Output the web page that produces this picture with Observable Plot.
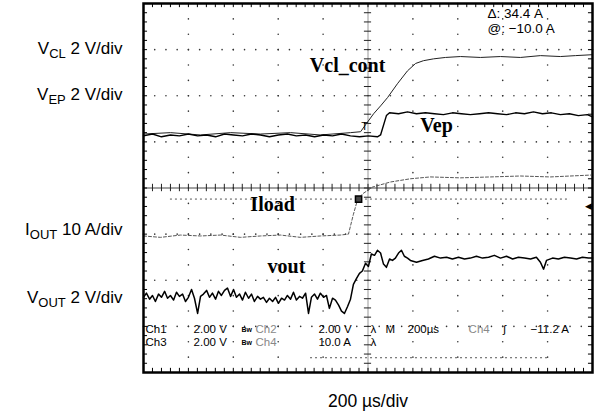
<!DOCTYPE html>
<html><head><meta charset="utf-8">
<script src="https://cdn.jsdelivr.net/npm/d3@7"></script>
<script src="https://cdn.jsdelivr.net/npm/@observablehq/plot@0.6"></script>
<style>body{margin:0;background:#fff;}</style>
</head><body><div id="chart"></div>
<script>
// time in µs (200 µs/div, trigger at 0), level in screen divisions (0..8)
const vcl = [[-1000,5.17],[-880,5.20],[-746,5.15],[-612,5.20],[-479,5.17],[-345,5.20],[-212,5.15],[-78,5.20],[-33,5.22],[-11,5.37],[25,5.61],[56,5.78],[87,5.96],[131,6.26],[176,6.54],[212,6.70],[247,6.76],[292,6.80],[345,6.83],[412,6.85],[501,6.83],[590,6.85],[679,6.83],[768,6.87],[857,6.85],[924,6.87],[1000,6.89]];
const vep = [[-1000,5.13],[-960,5.17],[-920,5.11],[-880,5.15],[-840,5.13],[-800,5.17],[-759,5.13],[-719,5.15],[-679,5.11],[-639,5.17],[-599,5.15],[-559,5.13],[-519,5.17],[-479,5.15],[-439,5.11],[-399,5.15],[-359,5.17],[-319,5.13],[-278,5.15],[-238,5.11],[-198,5.15],[-158,5.13],[-118,5.17],[-78,5.13],[-38,5.11],[2,5.13],[42,5.11],[56,5.15],[82,5.57],[96,5.63],[136,5.61],[176,5.65],[216,5.61],[256,5.63],[296,5.61],[336,5.59],[376,5.63],[416,5.61],[456,5.59],[497,5.61],[537,5.63],[577,5.61],[617,5.59],[657,5.63],[697,5.61],[737,5.65],[777,5.61],[817,5.63],[857,5.59],[897,5.61],[937,5.57],[977,5.59],[1000,5.54]];
const iload = [[-1000,2.96],[-924,2.93],[-835,2.98],[-746,2.96],[-657,2.98],[-568,2.93],[-479,2.96],[-390,2.98],[-301,2.93],[-212,2.96],[-123,2.98],[-87,3.00],[-65,3.43],[-47,3.74],[-25,3.87],[20,4.02],[100,4.13],[189,4.20],[278,4.24],[412,4.22],[546,4.24],[679,4.26],[813,4.24],[991,4.28]];
const vout = [[-1000,1.63],[-987,1.72],[-973,1.59],[-960,1.67],[-947,1.54],[-933,1.70],[-920,1.63],[-906,1.76],[-893,1.61],[-880,1.67],[-866,1.57],[-853,1.74],[-840,1.65],[-826,1.70],[-813,1.54],[-800,1.63],[-786,1.80],[-773,1.61],[-759,1.28],[-746,1.65],[-733,1.70],[-719,1.78],[-706,1.63],[-693,1.72],[-679,1.59],[-666,1.76],[-653,1.67],[-639,1.78],[-626,1.83],[-612,1.65],[-599,1.80],[-586,1.63],[-572,1.70],[-559,1.57],[-546,1.74],[-532,1.61],[-519,1.70],[-506,1.54],[-492,1.65],[-479,1.59],[-466,1.63],[-452,1.52],[-439,1.61],[-425,1.54],[-412,1.63],[-399,1.50],[-385,1.61],[-372,1.57],[-359,1.67],[-345,1.59],[-332,1.74],[-319,1.57],[-305,1.65],[-292,1.61],[-278,1.72],[-265,1.28],[-252,1.63],[-238,1.70],[-225,1.59],[-212,1.72],[-198,1.63],[-185,1.67],[-172,1.39],[-158,1.61],[-145,1.57],[-131,1.46],[-118,1.33],[-105,1.28],[-91,1.43],[-78,1.59],[-65,1.91],[-51,2.04],[-38,2.15],[-25,2.20],[-11,2.37],[2,2.30],[15,2.57],[29,2.54],[42,2.65],[56,2.59],[69,2.35],[82,2.28],[96,2.46],[109,2.43],[122,2.48],[136,2.59],[149,2.65],[162,2.52],[176,2.48],[189,2.43],[216,2.39],[243,2.43],[269,2.46],[296,2.52],[323,2.48],[350,2.50],[376,2.46],[403,2.50],[430,2.46],[456,2.48],[483,2.52],[510,2.48],[537,2.50],[563,2.54],[590,2.48],[617,2.52],[644,2.46],[670,2.50],[697,2.48],[724,2.46],[750,2.50],[768,2.39],[782,2.24],[795,2.43],[822,2.48],[848,2.46],[875,2.50],[902,2.48],[929,2.46],[955,2.50],[982,2.48],[1000,2.48]];

// cursors (Δ 34.4 A)
const cursorLevel = [3.76, 0.32];
const cursorStart = [-880, -256];
const cursorEnd = [902, 813];

// trace names written on screen
const traceNames = ["Vcl_cont", "Vep", "Iload", "vout"];
const traceNameT = [-91, 305, -425, -363];
const traceNameV = [6.65, 5.35, 3.65, 2.30];

// scope readouts
const row1Text = ["Ch1","2.00 V","Bw","Ch2","2.00 V","λ","M","200µs","Ch4","ʃ","−11.2 A"];
const row1T = [-991,-777,-564,-501,-221,11,78,176,448,603,724];
const row2Text = ["Ch3","2.00 V","Bw","Ch4","10.0 A","λ"];
const row2T = [-991,-777,-564,-501,-221,11];
const rowLevel = [0.93, 0.645];
const cursorText = ["Δ: 34.4 A", "@: −10.0 A"];
const cursorTextLevel = [7.79, 7.46];
const cursorTextT = 532;

// channel labels
const labelBase = ["V","V","I","V"];
const labelSub = ["CL","EP","OUT","OUT"];
const labelScale = [" 2 V/div"," 2 V/div"," 10 A/div"," 2 V/div"];
const labelLevel = [7.03, 6.02, 3.10, 1.63];
const timeLabel = "200 µs/div";

// markers
const trigMarker = [{t: -15, v: 5.33, s: "T"}];
const boxMarker = [{t: -42, v: 3.76}];
const levelMarker = [{t: 1000, v: 3.61, s: "◀"}];

const majorX = [-800,-600,-400,-200,200,400,600,800];
const majorY = [1,2,3,5,6,7];
const dotsH = d3.cross(majorY, d3.range(-1000, 1000.1, 50)).map(([v,t]) => ({t, v}));
const dotsV = d3.cross(majorX, d3.range(0, 8.01, 1/3)).map(([t,v]) => ({t, v}));
const minorX = d3.range(-1000, 1000.1, 40);
const minorY = d3.range(0, 8.01, 0.2);

const rows = [
  ...row1Text.map((s,i)=>({s, t: row1T[i], v: rowLevel[0]})),
  ...row2Text.map((s,i)=>({s, t: row2T[i], v: rowLevel[1]}))
];
const isGray = d => (d.s === "Ch2" || d.s === "Ch4");
const isTiny = d => d.s === "Bw";

const chart = Plot.plot({
  width: 595, height: 418,
  marginLeft: 143, marginRight: 3, marginTop: 3, marginBottom: 46,
  x: {domain: [-1000, 1000], axis: null},
  y: {domain: [0, 8], axis: null},
  style: {fontFamily: "'Liberation Sans', Arial, sans-serif", background: "#fff", color: "#000"},
  marks: [
    Plot.dot(dotsH, {x: "t", y: "v", r: 0.8, fill: "#333", stroke: null}),
    Plot.dot(dotsV, {x: "t", y: "v", r: 0.8, fill: "#333", stroke: null}),
    Plot.ruleY([4], {stroke: "#444", strokeWidth: 1}),
    Plot.ruleX([0], {stroke: "#999", strokeWidth: 1}),
    Plot.ruleX(minorX, {x: d => d, y1: 3.92, y2: 4.08, stroke: "#222"}),
    Plot.ruleY(minorY, {y: d => d, x1: -16, x2: 16, stroke: "#222"}),
    Plot.ruleX(minorX, {x: d => d, y1: 0, y2: 0.09, stroke: "#000"}),
    Plot.ruleX(minorX, {x: d => d, y1: 7.91, y2: 8, stroke: "#000"}),
    Plot.ruleY(minorY, {y: d => d, x1: -1000, x2: -982, stroke: "#000"}),
    Plot.ruleY(minorY, {y: d => d, x1: 982, x2: 1000, stroke: "#000"}),
    Plot.ruleY(cursorLevel, {y: d => d, x1: (d,i) => cursorStart[i], x2: (d,i) => cursorEnd[i], stroke: "#555", strokeDasharray: "2,3"}),
    Plot.line(iload, {x: d => d[0], y: d => d[1], stroke: "#444", strokeWidth: 0.9, strokeDasharray: "3,2"}),
    Plot.line(vcl, {x: d => d[0], y: d => d[1], stroke: "#222", strokeWidth: 1}),
    Plot.line(vep, {x: d => d[0], y: d => d[1], stroke: "#000", strokeWidth: 1.4}),
    Plot.line(vout, {x: d => d[0], y: d => d[1], stroke: "#000", strokeWidth: 1.5}),
    Plot.text(trigMarker, {x: "t", y: "v", text: "s", fontSize: 11, fill: "#000"}),
    Plot.dot(boxMarker, {x: "t", y: "v", symbol: "square", r: 3.5, fill: "#444", stroke: "#000"}),
    Plot.text(levelMarker, {x: "t", y: "v", text: "s", fontSize: 9, dx: -4, fill: "#000"}),
    Plot.text(traceNames, {x: (d,i) => traceNameT[i], y: (d,i) => traceNameV[i], text: d => d,
      fontFamily: "'Liberation Serif', 'Times New Roman', serif", fontWeight: "bold", fontSize: 20, fill: "#000"}),
    Plot.text(rows.filter(d => !isTiny(d)), {x: "t", y: "v", text: "s", textAnchor: "start", fontSize: 11.5,
      fontWeight: d => isGray(d) ? "normal" : "bold", fill: d => isGray(d) ? "#888" : "#000"}),
    Plot.text(rows.filter(isTiny), {x: "t", y: "v", text: "s", textAnchor: "start", fontSize: 7, fontWeight: "bold", fill: "#000"}),
    Plot.text(cursorText, {x: () => cursorTextT, y: (d,i) => cursorTextLevel[i], text: d => d, textAnchor: "start", fontSize: 13.5, fill: "#000"}),
    Plot.frame({stroke: "#000", strokeWidth: 2.5}),
    Plot.text(labelBase, {x: () => -1000, y: (d,i) => labelLevel[i], text: d => d, textAnchor: "end", dx: -21, fontSize: 17, fill: "#000", className: "chlabel"}),
    Plot.text([timeLabel], {frameAnchor: "bottom", lineAnchor: "middle", text: d => d, dy: 29, fontSize: 17.5, fill: "#000"})
  ]
});
document.getElementById("chart").appendChild(chart);

d3.select(chart).selectAll(".chlabel text").each(function(d, k) {
  const i = typeof d === "number" ? d : k;
  const t = d3.select(this);
  t.text(null);
  t.append("tspan").text(labelBase[i]);
  t.append("tspan").attr("dy", 4).attr("font-size", 13).text(labelSub[i]);
  t.append("tspan").attr("dy", -4).text(labelScale[i]);
});
</script>
</body></html>
